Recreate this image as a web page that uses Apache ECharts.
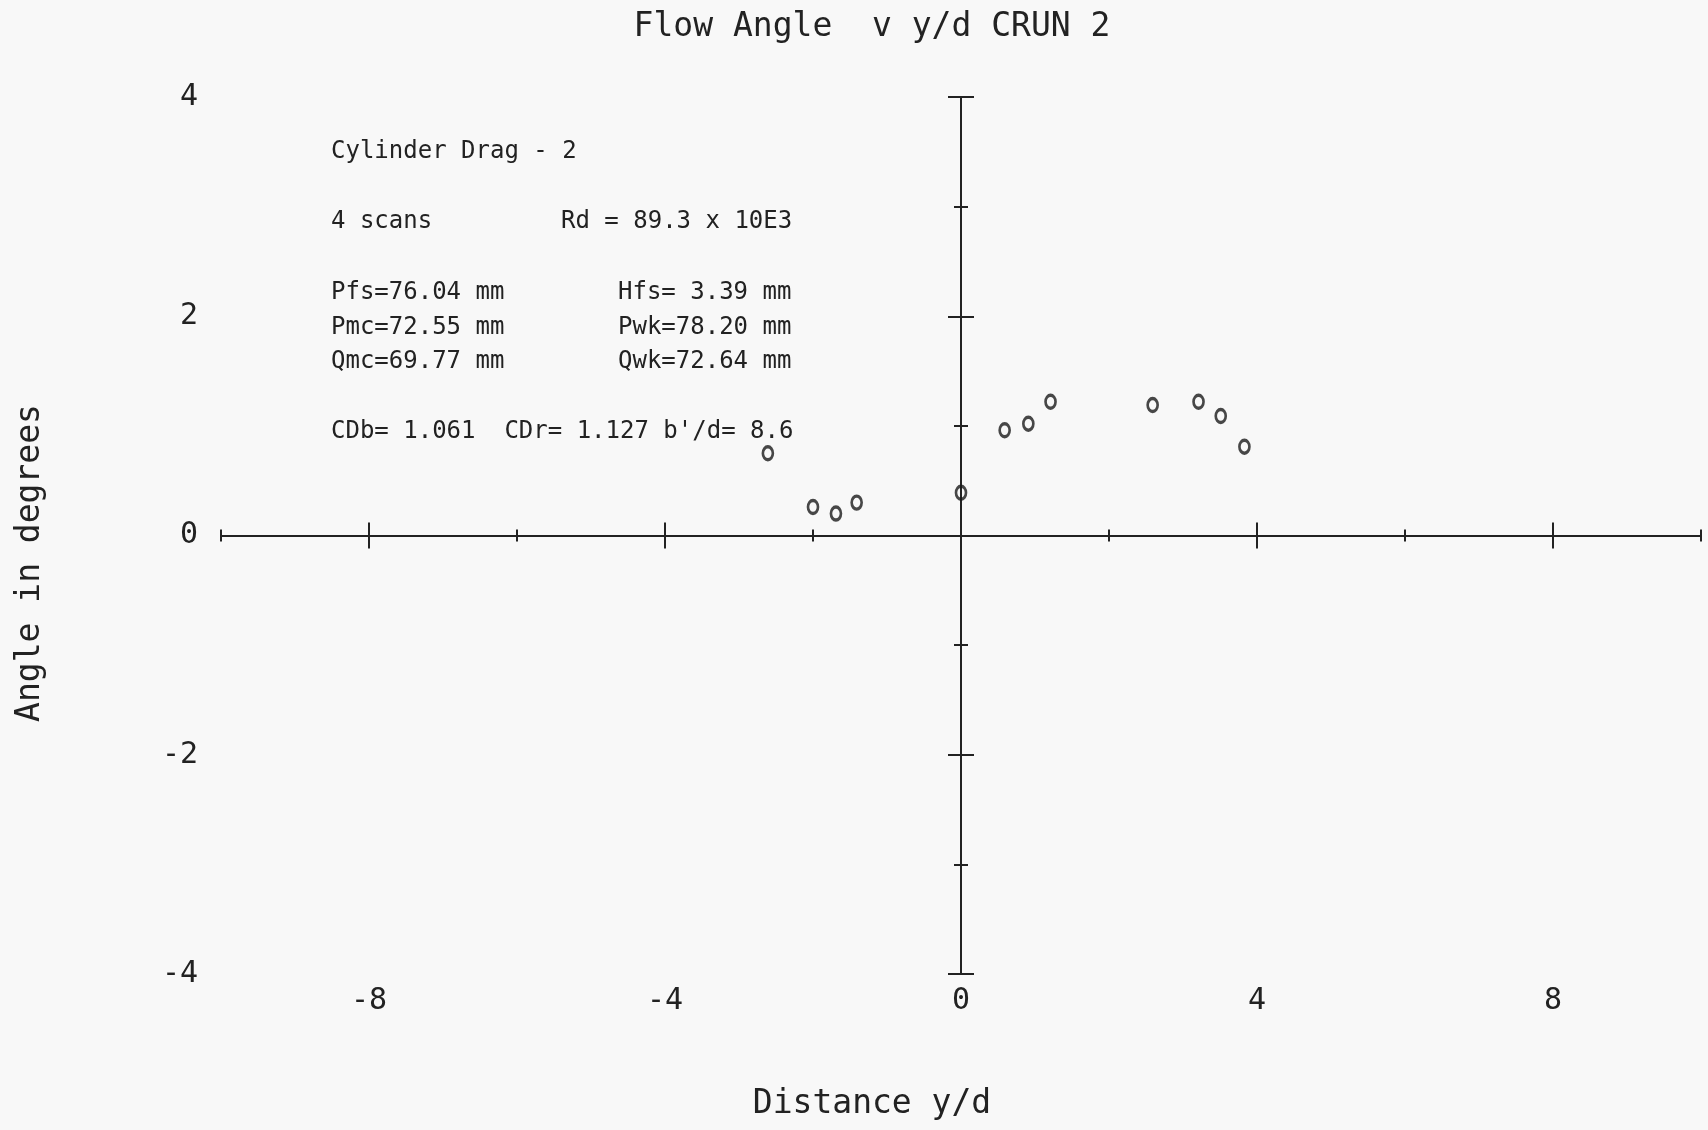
<!DOCTYPE html>
<html>
<head>
<meta charset="utf-8">
<title>Flow Angle v y/d CRUN 2</title>
<script src="https://cdn.jsdelivr.net/npm/echarts@6/dist/echarts.min.js"></script>
<style>
  html, body { margin: 0; padding: 0; background: #f8f8f8; }
  #main { width: 1708px; height: 1130px; }
</style>
</head>
<body>
<div id="main"></div>
<script>
// measured points (y/d, angle in degrees)
var distance = [-2.61, -2.00, -1.69, -1.41, 0.00, 0.59, 0.91, 1.21, 2.59, 3.21, 3.51, 3.83];
var angle    = [ 0.75,  0.26,  0.20,  0.30, 0.39, 0.96, 1.02, 1.22, 1.19, 1.22, 1.09, 0.81];

var xMajorTicks = [-8, -4, 4, 8];
var xMinorTicks = [-10, -6, -2, 2, 6, 10];
var xTickLabels = [-8, -4, 0, 4, 8];
var yMajorTicks = [-4, -2, 2, 4];
var yMinorTicks = [-3, -1, 1, 3];
var yTickLabels = [-4, -2, 0, 2, 4];

var titleText = 'Flow Angle  v y/d CRUN 2';
var xName = 'Distance y/d';
var yName = 'Angle in degrees';
var notesLeft = ['Cylinder Drag - 2', '4 scans', 'Pfs=76.04 mm', 'Pmc=72.55 mm', 'Qmc=69.77 mm',
                 "CDb= 1.061  CDr= 1.127 b'/d= 8.6"];
var notesRight = ['Rd = 89.3 x 10E3', 'Hfs= 3.39 mm', 'Pwk=78.20 mm', 'Qwk=72.64 mm'];

var ink = '#222';
var mono = '"DejaVu Sans Mono", "Liberation Mono", monospace';

var pts = distance.map(function (x, i) { return [x, angle[i]]; });

// one axis per tick kind, all sharing the same scale
function xAx(opt) {
    return Object.assign({
        type: 'value', min: -10, max: 10, position: 'bottom',
        axisLine: { show: false, onZero: true, onZeroAxisIndex: 0 },
        axisTick: { show: false },
        axisLabel: { show: false },
        splitLine: { show: false }
    }, opt);
}
function yAx(opt) {
    return Object.assign({
        type: 'value', min: -4, max: 4, position: 'left',
        axisLine: { show: false, onZero: true, onZeroAxisIndex: 0 },
        axisTick: { show: false },
        axisLabel: { show: false },
        splitLine: { show: false }
    }, opt);
}
function ticks(vals, len, inside) {
    return { show: true, customValues: vals, length: len, inside: inside,
             lineStyle: { color: ink, width: 2 } };
}

var textLines = [];
var leftY = [152, 222, 293, 328, 362, 432];
notesLeft.forEach(function (t, i) {
    textLines.push({ type: 'text', x: 331, y: leftY[i],
        style: { text: t, font: '24px ' + mono, fill: ink, align: 'left', verticalAlign: 'middle' } });
});
var rightX = [561, 618, 618, 618];
var rightY = [222, 293, 328, 362];
notesRight.forEach(function (t, i) {
    textLines.push({ type: 'text', x: rightX[i], y: rightY[i],
        style: { text: t, font: '24px ' + mono, fill: ink, align: 'left', verticalAlign: 'middle' } });
});

var myChart = echarts.init(document.getElementById('main'));
var option = {
    backgroundColor: '#f8f8f8',
    animation: false,
    grid: { left: 221, right: 7, top: 97, bottom: 156, containLabel: false, outerBoundsMode: 'none' },
    xAxis: [
        xAx({ axisLine: { show: true, onZero: true, onZeroAxisIndex: 0, lineStyle: { color: ink, width: 2 } },
              axisTick: ticks(xMajorTicks, 13, false) }),
        xAx({ axisTick: ticks(xMajorTicks, 13, true) }),
        xAx({ axisTick: ticks(xMinorTicks, 6, false) }),
        xAx({ axisTick: ticks(xMinorTicks, 6, true) }),
        xAx({ axisLine: { show: false, onZero: false },
              axisLabel: { show: true, customValues: xTickLabels, margin: 12,
                           fontFamily: mono, fontSize: 30, color: ink } })
    ],
    yAxis: [
        yAx({ axisLine: { show: true, onZero: true, onZeroAxisIndex: 0, lineStyle: { color: ink, width: 2 } },
              axisTick: ticks(yMajorTicks, 13, false) }),
        yAx({ axisTick: ticks(yMajorTicks, 13, true) }),
        yAx({ axisTick: ticks(yMinorTicks, 7, false) }),
        yAx({ axisTick: ticks(yMinorTicks, 7, true) }),
        yAx({ axisLine: { show: false, onZero: false },
              axisLabel: { show: true, customValues: yTickLabels, margin: 23,
                           fontFamily: mono, fontSize: 30, color: ink } })
    ],
    graphic: [
        { type: 'text', x: 872, y: 27,
          style: { text: titleText, font: '33px ' + mono, fill: ink, align: 'center', verticalAlign: 'middle' } },
        { type: 'text', x: 872, y: 1104,
          style: { text: xName, font: '33px ' + mono, fill: ink, align: 'center', verticalAlign: 'middle' } },
        { type: 'text', x: 30, y: 563, rotation: Math.PI / 2,
          style: { text: yName, font: '33px ' + mono, fill: ink, align: 'center', verticalAlign: 'middle' } }
    ].concat(textLines),
    series: [
        {
            name: 'Flow angle',
            type: 'scatter',
            xAxisIndex: 0,
            yAxisIndex: 0,
            symbol: 'path://M50,0 A50,50 0 1,1 50,100 A50,50 0 1,1 50,0 Z',
            symbolSize: [10, 13],
            itemStyle: { color: 'rgba(0,0,0,0)', borderColor: '#1a1a1a', borderWidth: 3 },
            data: pts
        }
    ]
};
myChart.setOption(option);
</script>
</body>
</html>
